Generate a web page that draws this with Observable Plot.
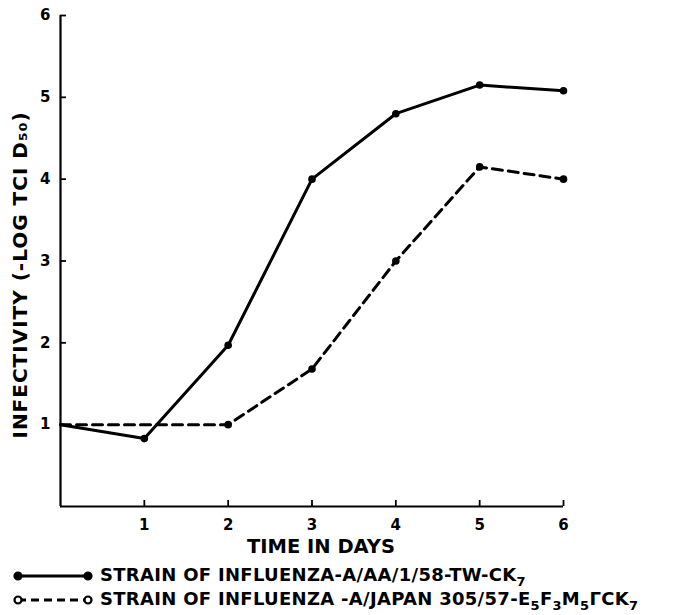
<!DOCTYPE html>
<html><head><meta charset="utf-8">
<script src="https://cdn.jsdelivr.net/npm/d3@7"></script>
<script src="https://cdn.jsdelivr.net/npm/@observablehq/plot@0.6"></script>
<style>
body{margin:0;background:#fff;font-family:"DejaVu Sans",sans-serif;}
#chart svg{display:block;}
#chart svg .ylab{letter-spacing:1px;}
#legend{font-weight:bold;font-size:18px;color:#000;position:relative;height:55px;}
#legend .row{position:absolute;left:0;display:flex;align-items:center;height:22px;white-space:nowrap;}
#legend svg{margin-left:10px;margin-right:6px;}
#legend span{letter-spacing:0.3px;}
#legend sub{font-size:13px;vertical-align:-5px;}
</style></head><body>
<div id="chart"></div>
<div id="legend"></div>
<script>
const days = [0, 1, 2, 3, 4, 5, 6];
const strainAA = [1.0, 0.83, 1.97, 4.0, 4.8, 5.15, 5.08];
const strainJapan = [1.0, 1.0, 1.0, 1.68, 3.0, 4.15, 4.0];
const seriesLabels = [
  "STRAIN OF INFLUENZA-A/AA/1/58-TW-CK<sub>7</sub>",
  "STRAIN OF INFLUENZA -A/JAPAN 305/57-E<sub>5</sub>F<sub>3</sub>M<sub>5</sub>ΓCK<sub>7</sub>"
];
const xTicks = [1, 2, 3, 4, 5, 6];
const yTicks = [1, 2, 3, 4, 5, 6];
const xLabel = "TIME IN DAYS";
const yLabel = "INFECTIVITY (-LOG TCI D₅₀)";

const aa = days.map((d, i) => ({day: d, v: strainAA[i]}));
const jp = days.map((d, i) => ({day: d, v: strainJapan[i]}));

const chart = Plot.plot({
  width: 692,
  height: 560,
  marginLeft: 60,
  marginRight: 129,
  marginTop: 15,
  marginBottom: 54,
  style: {fontFamily: '"DejaVu Sans",sans-serif', fontWeight: "bold", fontSize: "15px", color: "#000"},
  x: {domain: [0, 6]},
  y: {domain: [0, 6]},
  marks: [
    Plot.ruleX([0], {y1: 0, y2: 6, stroke: "#000", strokeWidth: 2.2}),
    Plot.ruleY([0], {x1: 0, x2: 6, stroke: "#000", strokeWidth: 2.2}),
    Plot.axisX({ticks: xTicks, tickSize: -6, tickPadding: 19, tickFormat: d => d, stroke: "#000", strokeWidth: 1.8, label: null, fontSize: 15}),
    Plot.axisY({ticks: yTicks, tickSize: -6, tickPadding: 16, tickFormat: d => d, stroke: "#000", strokeWidth: 1.8, label: null, fontSize: 15}),
    Plot.text([xLabel], {frameAnchor: "bottom", lineAnchor: "middle", dx: 9, dy: 40, fontSize: 19.5, fontWeight: "bold", fill: "#000"}),
    Plot.text([yLabel], {frameAnchor: "left", textAnchor: "middle", lineAnchor: "middle", rotate: -90, dx: -40, dy: 14, fontSize: 20, fontWeight: "bold", fill: "#000", className: "ylab"}),
    Plot.line(aa, {x: "day", y: "v", stroke: "#000", strokeWidth: 3}),
    Plot.line(jp, {x: "day", y: "v", stroke: "#000", strokeWidth: 3, strokeDasharray: "10,6"}),
    Plot.dot(aa.slice(1), {x: "day", y: "v", r: 3.8, fill: "#000"}),
    Plot.dot(jp.slice(2), {x: "day", y: "v", r: 3.8, fill: "#000"})
  ]
});
document.getElementById("chart").appendChild(chart);

const legend = document.getElementById("legend");
const rowTops = [5, 29];
seriesLabels.forEach((lab, i) => {
  const row = document.createElement("div");
  row.className = "row";
  row.style.top = rowTops[i] + "px";
  const dash = i === 1 ? ' stroke-dasharray="8,5"' : '';
  const fillL = i === 1 ? '#fff' : '#000';
  const fillR = i === 1 ? '#fff' : '#000';
  row.innerHTML = `<svg width="84" height="14"><line x1="8" y1="7" x2="78" y2="7" stroke="#000" stroke-width="3"${dash}/><circle cx="8" cy="7" r="3.5" fill="${fillL}" stroke="#000" stroke-width="2.2"/><circle cx="78" cy="7" r="3.5" fill="${fillR}" stroke="#000" stroke-width="2.2"/></svg><span>${lab}</span>`;
  legend.appendChild(row);
});
</script>
</body></html>
